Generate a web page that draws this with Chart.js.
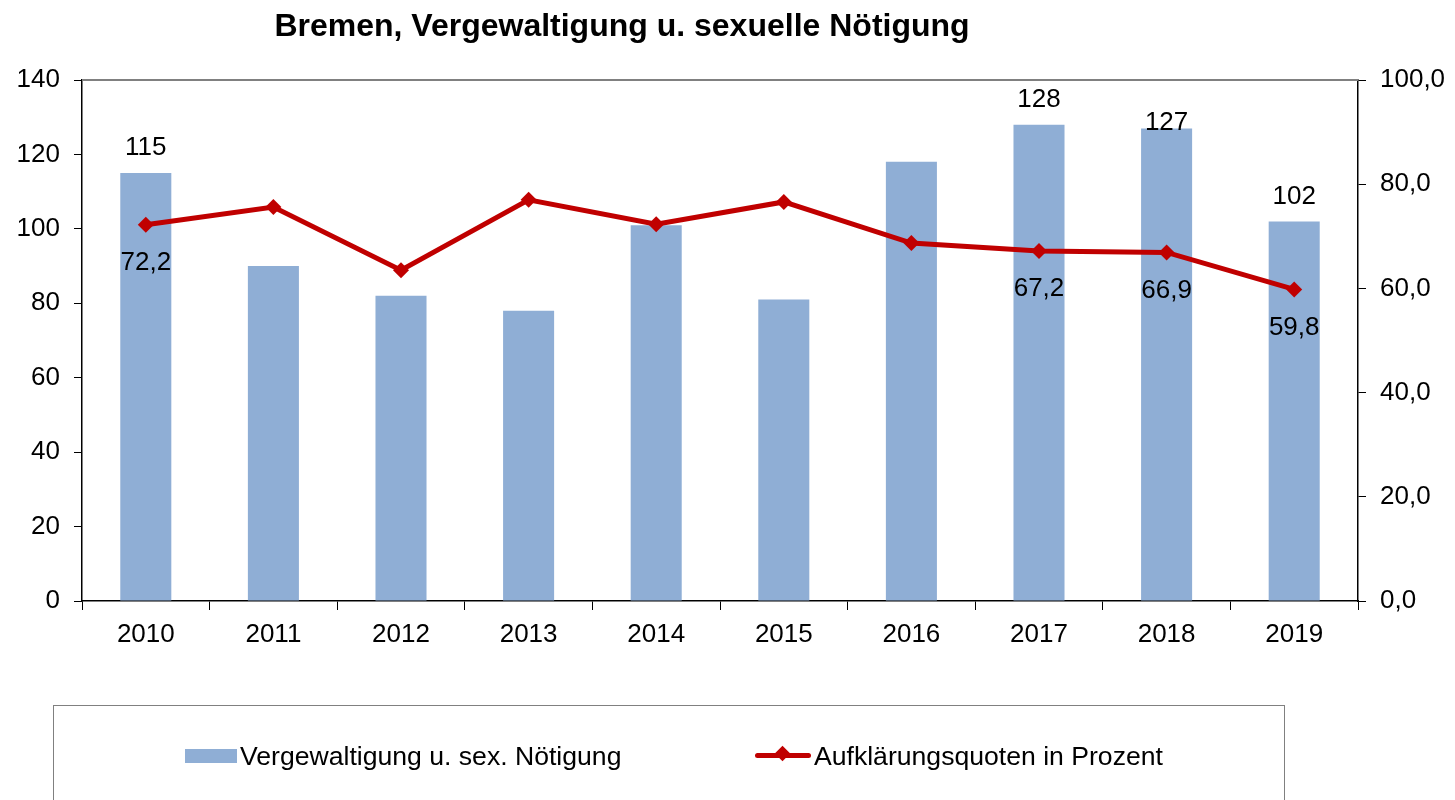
<!DOCTYPE html>
<html>
<head>
<meta charset="utf-8">
<title>Bremen, Vergewaltigung u. sexuelle Nötigung</title>
<script src="https://cdn.jsdelivr.net/npm/chart.js@4/dist/chart.umd.min.js"></script>
<style>
  body { margin: 0; background: #fff; font-family: "Liberation Sans", Arial, sans-serif; }
  #wrap { position: relative; width: 1455px; height: 800px; overflow: hidden; }
  #legend {
    position: absolute; left: 53px; top: 705px; width: 1232px; height: 140px;
    border: 1px solid #808080; box-sizing: border-box;
  }
  .item { position: absolute; top: 35px; font-size: 26.6px; line-height: 30px; color: #000; white-space: nowrap; }
  .barkey { position: absolute; left: 131px; top: 43px; width: 52px; height: 14px; background: rgb(143,174,213); }
  .linekey { position: absolute; left: 701px; top: 47px; width: 56px; height: 5px; background: #C00000; border-radius: 3px; }
  .linekey span { position: absolute; left: 22px; top: -5px; width: 11px; height: 11px; background: #C00000; transform: rotate(45deg); }
</style>
</head>
<body>
<div id="wrap">
  <canvas id="graph" width="1455" height="800"></canvas>
  <div id="legend">
    <div class="barkey"></div>
    <div class="item" style="left:186px">Vergewaltigung u. sex. Nötigung</div>
    <div class="linekey"><span></span></div>
    <div class="item" style="left:760px">Aufklärungsquoten in Prozent</div>
  </div>
</div>
<script>
"use strict";
const TITLE = "Bremen, Vergewaltigung u. sexuelle Nötigung";
const YEARS = ["2010", "2011", "2012", "2013", "2014", "2015", "2016", "2017", "2018", "2019"];
const CASES = [115, 90, 82, 78, 101, 81, 118, 128, 127, 102];
const QUOTE = [72.2, 75.6, 63.5, 77.0, 72.3, 76.6, 68.7, 67.2, 66.9, 59.8];
// only some points carry a value label in the original
const CASE_LABELS = ["115", null, null, null, null, null, null, "128", "127", "102"];
const QUOTE_LABELS = ["72,2", null, null, null, null, null, null, "67,2", "66,9", "59,8"];

const FONT = "'Liberation Sans', Arial, sans-serif";

const decor = {
    id: "decor",
    beforeDatasetsDraw(chart) {
        const { ctx, chartArea } = chart;
        ctx.save();
        ctx.strokeStyle = "#808080";
        ctx.lineWidth = 2;
        ctx.beginPath();
        ctx.moveTo(chartArea.left, chartArea.top);
        ctx.lineTo(chartArea.right, chartArea.top);
        ctx.stroke();
        ctx.restore();
    },
    afterDatasetsDraw(chart) {
        const { ctx } = chart;
        ctx.save();
        ctx.font = "26px " + FONT;
        ctx.fillStyle = "#000";
        ctx.textAlign = "center";
        ctx.textBaseline = "middle";
        const bars = chart.getDatasetMeta(0).data;
        bars.forEach(function (bar, i) {
            if (!CASE_LABELS[i]) return;
            // 127 sits lower in the original, overlapping its bar top
            const shift = i === 8 ? 19 : 0;
            ctx.fillText(CASE_LABELS[i], bar.x, bar.y - 25 + shift);
        });
        const pts = chart.getDatasetMeta(1).data;
        pts.forEach(function (p, i) {
            if (!QUOTE_LABELS[i]) return;
            ctx.fillText(QUOTE_LABELS[i], p.x, p.y + 38);
        });
        ctx.font = "bold 32px " + FONT;
        ctx.fillText(TITLE, 622, 27);
        ctx.restore();
    },
};

function drawGraph() {
    const data = {
        labels: YEARS,
        datasets: [
            {
                type: "bar",
                label: "Vergewaltigung u. sex. Nötigung",
                data: CASES,
                backgroundColor: "rgb(143, 174, 213)",
                categoryPercentage: 1,
                barPercentage: 0.4,
                yAxisID: "y",
                order: 2,
            },
            {
                type: "line",
                label: "Aufklärungsquoten in Prozent",
                data: QUOTE,
                borderColor: "#C00000",
                backgroundColor: "#C00000",
                borderWidth: 5,
                pointStyle: "rectRot",
                pointRadius: 8,
                pointBorderWidth: 0,
                tension: 0,
                yAxisID: "y1",
                order: 1,
            },
        ],
    };
    const tickFont = { family: FONT, size: 26 };
    const config = {
        data,
        options: {
            responsive: false,
            animation: false,
            layout: { padding: { top: 80, bottom: 139, left: 0, right: 0 } },
            plugins: { legend: { display: false }, tooltip: { enabled: false } },
            scales: {
                x: {
                    offset: true,
                    grid: { offset: true, drawOnChartArea: false, tickLength: 9, tickColor: "#000" },
                    border: { color: "#000", width: 1.5 },
                    ticks: { font: tickFont, color: "#000", padding: 9 },
                    afterFit(scale) { scale.height = 60; },
                },
                y: {
                    position: "left",
                    min: 0,
                    max: 140,
                    ticks: { stepSize: 20, font: tickFont, color: "#000", padding: 14 },
                    grid: { drawOnChartArea: false, tickLength: 8, tickColor: "#000" },
                    border: { color: "#000", width: 1.5 },
                    afterFit(scale) { scale.width = 82; },
                },
                y1: {
                    position: "right",
                    min: 0,
                    max: 100,
                    ticks: {
                        stepSize: 20,
                        font: tickFont,
                        color: "#000",
                        padding: 14,
                        callback: function (v) { return v.toFixed(1).replace(".", ","); },
                    },
                    grid: { drawOnChartArea: false, tickLength: 8, tickColor: "#000" },
                    border: { color: "#000", width: 1.5 },
                    afterFit(scale) { scale.width = 97; },
                },
            },
        },
        plugins: [decor],
    };
    new Chart(document.getElementById("graph"), config);
}
drawGraph();
</script>
</body>
</html>
